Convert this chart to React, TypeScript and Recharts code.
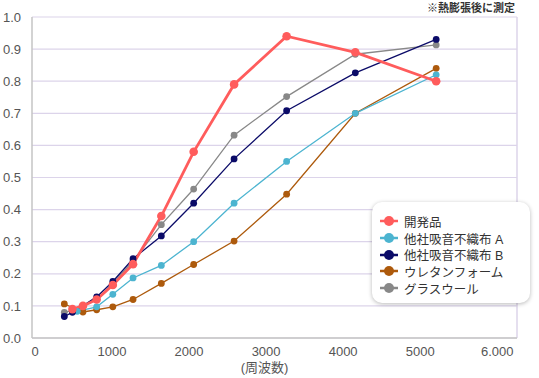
import * as React from "react";
import {
  LineChart,
  Line,
  XAxis,
  YAxis,
  CartesianGrid,
  ReferenceLine,
  Legend,
  Label,
} from "recharts";

// 周波数 (Hz)
const FREQ = [400, 500, 630, 800, 1000, 1250, 1600, 2000, 2500, 3150, 4000, 5000];
const FREQ_DEV = [500, 630, 800, 1000, 1250, 1600, 2000, 2500, 3150, 4000, 5000];
const FREQ_A = [560, 800, 1000, 1250, 1600, 2000, 2500, 3150, 4000, 5000];
const FREQ_URE = [400, 630, 800, 1000, 1250, 1600, 2000, 2500, 3150, 4000, 5000];

const DEV = [0.09, 0.1, 0.12, 0.165, 0.23, 0.38, 0.58, 0.79, 0.94, 0.89, 0.8];
const OTHER_A = [0.083, 0.097, 0.136, 0.187, 0.226, 0.3, 0.42, 0.55, 0.7, 0.82];
const OTHER_B = [0.067, 0.08, 0.1, 0.128, 0.176, 0.247, 0.318, 0.42, 0.558, 0.708, 0.826, 0.93];
const URETHANE = [0.106, 0.081, 0.088, 0.097, 0.12, 0.17, 0.229, 0.302, 0.448, 0.7, 0.84];
const GLASS = [0.08, 0.086, 0.1, 0.12, 0.17, 0.24, 0.353, 0.464, 0.632, 0.752, 0.884, 0.913];

const X_TICKS = [0, 1000, 2000, 3000, 4000, 5000, 6000];
const X_TICK_LABELS = ["0", "1000", "2000", "3000", "4000", "5000", "6.000"];
const Y_TICKS = [0, 0.1, 0.2, 0.3, 0.4, 0.5, 0.6, 0.7, 0.8, 0.9, 1.0];

const zip = (xs: number[], ys: number[]) => xs.map((x, i) => ({ x, y: ys[i] }));

const SERIES = [
  { name: "開発品", color: "#ff5c5c", data: zip(FREQ_DEV, DEV), width: 2.8, r: 4.3 },
  { name: "他社吸音不織布 A", color: "#4cb4d0", data: zip(FREQ_A, OTHER_A), width: 1.3, r: 3.4 },
  { name: "他社吸音不織布 B", color: "#0b0b68", data: zip(FREQ, OTHER_B), width: 1.3, r: 3.4 },
  { name: "ウレタンフォーム", color: "#ad5a0c", data: zip(FREQ_URE, URETHANE), width: 1.3, r: 3.4 },
  { name: "グラスウール", color: "#888888", data: zip(FREQ, GLASS), width: 1.3, r: 3.4 },
];

// 描画順（開発品を最前面に）
const DRAW_ORDER = [4, 3, 1, 2, 0];

const FONT = '"Liberation Sans", Arial, "Noto Sans CJK JP", sans-serif';
const GRID = "#dcd4ea";
const PLOT_LEFT = 32;

// 元図の目盛ラベルはデータ位置より少し詰めて並んでいる
function XTick(props: any) {
  const { x, y, payload } = props;
  const lx = PLOT_LEFT + 3 + (x - PLOT_LEFT) * 0.953;
  return (
    <text x={lx} y={y} dy="0.71em" textAnchor="middle" fill="#555" fontSize={13}>
      {X_TICK_LABELS[X_TICKS.indexOf(payload.value)]}
    </text>
  );
}

function LegendBox() {
  return (
    <div
      style={{
        background: "#fff",
        borderRadius: 10,
        boxShadow: "0 1px 4px rgba(0,0,0,0.28)",
        padding: "11px 10px 7px 8px",
        fontFamily: FONT,
        fontSize: 12.5,
        color: "#333",
      }}
    >
      {SERIES.map((s) => (
        <div key={s.name} style={{ display: "flex", alignItems: "center", height: 16.7 }}>
          <svg width={18} height={12} style={{ marginRight: 6 }}>
            <line x1={0} y1={6} x2={18} y2={6} stroke={s.color} strokeWidth={2.5} />
            <circle cx={9} cy={6} r={5} fill={s.color} />
          </svg>
          <span>{s.name}</span>
        </div>
      ))}
    </div>
  );
}

export default function App() {
  return (
    <div style={{ position: "absolute", left: 0, top: 0, width: 539, height: 378, background: "#fff" }}>
      <div
        style={{
          position: "absolute",
          right: 24,
          top: -1,
          fontFamily: FONT,
          fontSize: 11,
          fontWeight: "bold",
          color: "#333",
          zIndex: 2,
        }}
      >
        ※熱膨張後に測定
      </div>
      <LineChart
        width={539}
        height={378}
        margin={{ top: 17, right: 22, left: 0, bottom: 0 }}
        style={{ fontFamily: FONT }}
      >
        <CartesianGrid vertical={false} stroke={GRID} strokeWidth={1.2} />
        <XAxis
          dataKey="x"
          type="number"
          domain={[0, 6000]}
          ticks={X_TICKS}
          height={40}
          tickSize={0}
          tickMargin={9}
          axisLine={{ stroke: "#c4c4c4", strokeWidth: 1.5 }}
          tick={<XTick />}
          interval={0}
        >
          <Label value="(周波数)" position="insideBottom" offset={6} dx={-10} fill="#555" fontSize={13} />
        </XAxis>
        <YAxis
          type="number"
          domain={[0, 1]}
          ticks={Y_TICKS}
          width={32}
          tickSize={0}
          tickMargin={11}
          tickFormatter={(v) => Number(v).toFixed(1)}
          axisLine={{ stroke: "#c4c4c4", strokeWidth: 1.5 }}
          tick={{ fill: "#555", fontSize: 13 }}
        />
        <ReferenceLine x={6000} stroke={GRID} strokeWidth={1.5} />
        {DRAW_ORDER.map((i) => {
          const s = SERIES[i];
          return (
            <Line
              key={s.name}
              data={s.data}
              dataKey="y"
              name={s.name}
              type="linear"
              stroke={s.color}
              strokeWidth={s.width}
              dot={{ r: s.r, fill: s.color, stroke: s.color, strokeWidth: 0 }}
              isAnimationActive={false}
            />
          );
        })}
        <Legend
          layout="vertical"
          align="center"
          verticalAlign="middle"
          content={() => <LegendBox />}
          wrapperStyle={{ left: 372, top: 202, width: 158 }}
        />
      </LineChart>
    </div>
  );
}
